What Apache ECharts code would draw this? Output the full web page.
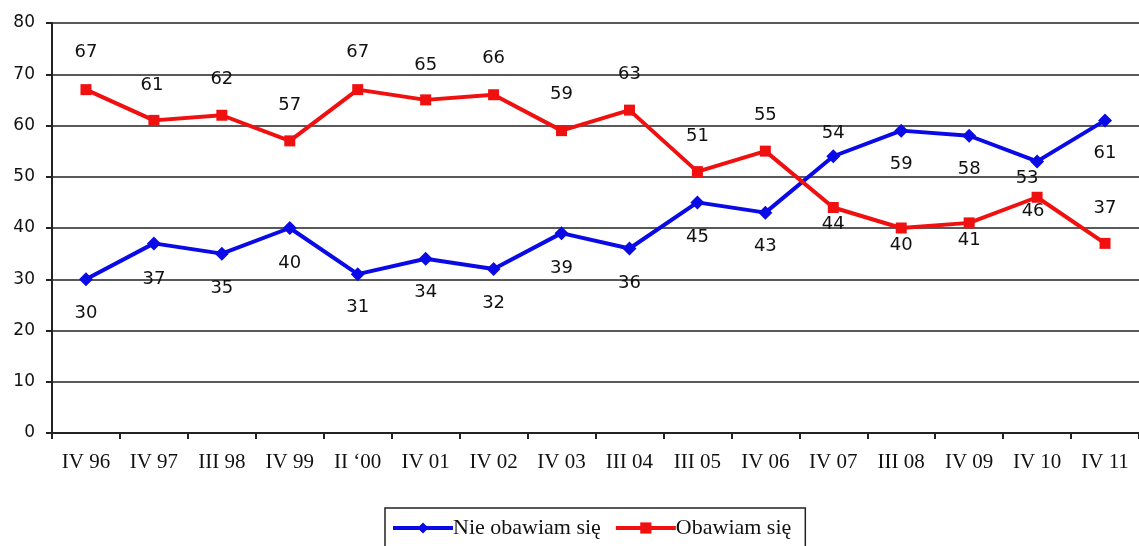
<!DOCTYPE html>
<html>
<head>
<meta charset="utf-8">
<script src="https://cdn.jsdelivr.net/npm/echarts@6/dist/echarts.min.js"></script>
<style>html,body{margin:0;padding:0;background:#fff;}#c{width:1139px;height:546px;}</style>
</head>
<body>
<div id="c"></div>
<script>
var categories = ["IV 96","IV 97","III 98","IV 99","II \u201800","IV 01","IV 02","IV 03","III 04","III 05","IV 06","IV 07","III 08","IV 09","IV 10","IV 11"];
var nieObawiam = [30,37,35,40,31,34,32,39,36,45,43,54,59,58,53,61];
var obawiam = [67,61,62,57,67,65,66,59,63,51,55,44,40,41,46,37];
var seriesNames = ["Nie obawiam się","Obawiam się"];

// label vertical offsets (px) relative to point
var blueOffsets = [34,36,35,35,33,34,34,35,35,35,34,-23,34,34,17,33];
var redOffsets = [-37,-35,-36,-36,-37,-35,-36,-36,-36,-35,-36,17,17,17,14,-35];
var blueDx = [0,0,0,0,0,0,0,0,0,0,0,0,0,0,-10,0];
var redDx = [0,-2,0,0,0,0,0,0,0,0,0,0,0,0,-4,0];

function build(vals, offs, dxs) {
  return vals.map(function(v, i){
    return {value: v, label: {offset: [dxs[i], offs[i]]}};
  });
}

var chart = echarts.init(document.getElementById('c'));
var labelStyle = {show: true, position: 'inside', color: '#111', fontFamily: 'DejaVu Sans', fontSize: 18};
chart.setOption({
  animation: false,
  backgroundColor: '#fff',
  grid: {left: 52, right: 0, top: 23, bottom: 113},
  xAxis: {
    type: 'category',
    data: categories,
    boundaryGap: true,
    axisLine: {lineStyle: {color: '#222', width: 2}},
    axisTick: {show: true, length: 6, lineStyle: {color: '#222', width: 2}},
    axisLabel: {color: '#111', fontFamily: 'Liberation Serif', fontSize: 21, margin: 19}
  },
  yAxis: {
    type: 'value', min: 0, max: 80, interval: 10,
    axisLine: {show: true, lineStyle: {color: '#222', width: 2}},
    axisTick: {show: true, length: 6, lineStyle: {color: '#222', width: 2}},
    axisLabel: {color: '#111', fontFamily: 'DejaVu Sans', fontSize: 17, margin: 17},
    splitLine: {lineStyle: {color: '#222', width: 1.5}}
  },
  legend: {
    top: 508, left: 385,
    itemWidth: 60, itemHeight: 14, itemGap: 13,
    borderColor: '#222', borderWidth: 1.5, padding: [9, 14, 20, 6],
    textStyle: {color: '#111', fontFamily: 'Liberation Serif', fontSize: 22, padding: [0,0,0,-5]},
    lineStyle: {width: 4},
    data: seriesNames
  },
  series: [
    {
      name: seriesNames[0], type: 'line', data: build(nieObawiam, blueOffsets, blueDx),
      symbol: 'diamond', symbolSize: 14,
      lineStyle: {color: '#0a0ae6', width: 4},
      itemStyle: {color: '#0a0ae6'},
      label: labelStyle, z: 2
    },
    {
      name: seriesNames[1], type: 'line', data: build(obawiam, redOffsets, redDx),
      symbol: 'rect', symbolSize: 11,
      lineStyle: {color: '#f01010', width: 4},
      itemStyle: {color: '#f01010'},
      label: labelStyle, z: 3
    }
  ]
});
</script>
</body>
</html>
